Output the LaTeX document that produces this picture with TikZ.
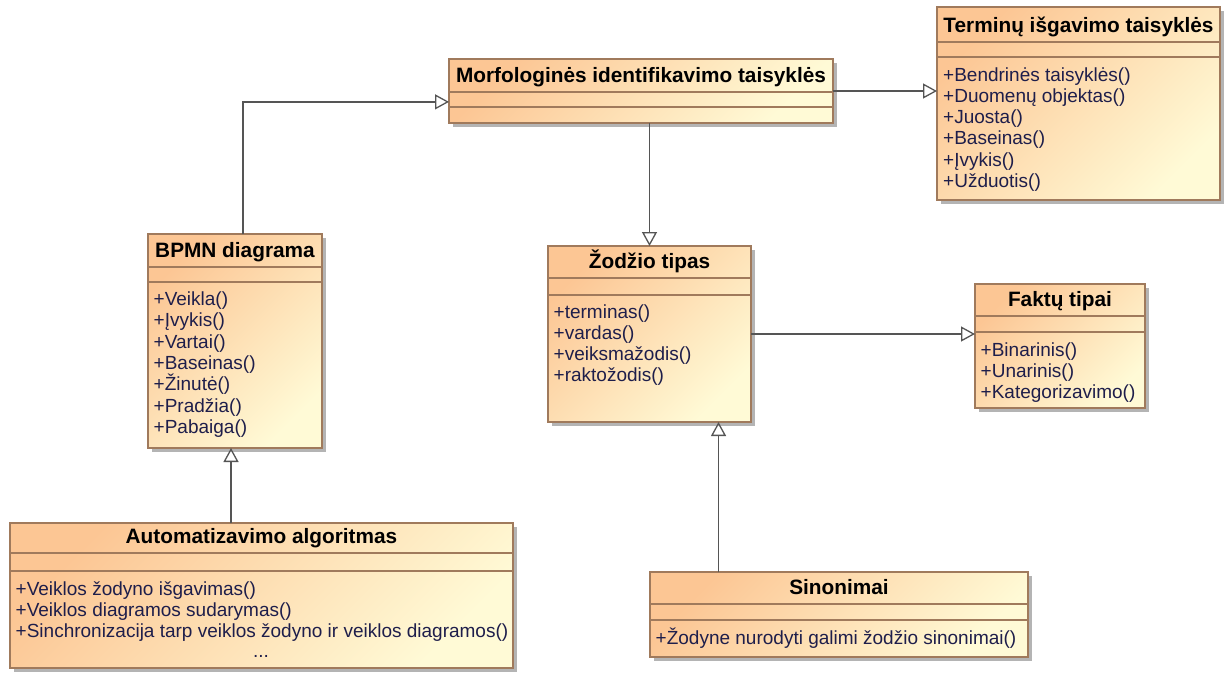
\documentclass[tikz,border=0pt]{standalone}
\usepackage{fontspec}
\setmainfont{Liberation Sans}
\usetikzlibrary{arrows.meta,calc}

\definecolor{grA}{RGB}{252,198,148}
\definecolor{grB}{RGB}{255,250,214}
\definecolor{edge}{RGB}{160,122,92}
\definecolor{shadowgray}{RGB}{180,180,180}
\definecolor{membertext}{RGB}{30,30,75}
\definecolor{linkgray}{RGB}{85,85,85}

\tikzset{
  classbody/.style={draw=edge, line width=1.4pt, top color=grA, bottom color=grB,
    shading angle=45, inner sep=0pt, outer sep=0pt, anchor=north west},
  compart/.style={draw=edge, line width=1.4pt},
  classtitle/.style={font=\fontsize{20.8}{24}\selectfont\bfseries, anchor=base, inner sep=0pt},
  member/.style={font=\fontsize{19}{21}\selectfont, text=membertext, anchor=base west, inner sep=0pt},
  generalization/.style={draw=linkgray, line width=1.4pt,
    -{Triangle[open, length=14pt, width=15pt, line width=1.3pt]}},
}

% class box: name, left, top, right, bottom, title rule, attribute rule, title
\newcommand{\umlclass}[8]{%
  \fill[shadowgray] (#2+4,#3+4) rectangle (#4+4,#5+4);
  \node[classbody, minimum width={#4-#2}, minimum height={#5-#3}] (#1) at (#2,#3) {};
  \draw[compart] (#2,#6) -- (#4,#6);
  \draw[compart] (#2,#7) -- (#4,#7);
  \node[classtitle] (#1-title) at ({(#2+#4)/2},#6-10) {#8};
}
% operations: name, text left, first baseline, list
\newcommand{\umlops}[4]{%
  \foreach \m [count=\k] in {#4} {
    \node[member] (#1-op\k) at (#2, {#3+(\k-1)*21.3}) {\m};
  }
}

\begin{document}
\begin{tikzpicture}[x=1pt, y=-1pt]
  \fill[white] (0,0) rectangle (1227,673);
  \useasboundingbox (0,0) rectangle (1227,673);

  \umlclass{morf}{449}{59}{833}{123}{92}{107}{Morfologinės identifikavimo taisyklės}

  \umlclass{term}{937}{7}{1220}{200}{42}{57}{Terminų išgavimo taisyklės}
  \umlops{term}{943}{81}{+Bendrinės taisyklės(), +Duomenų objektas(), +Juosta(), +Baseinas(), +Įvykis(), +Užduotis()}

  \umlclass{bpmn}{148}{234}{322}{448}{267}{282}{BPMN diagrama}
  \umlops{bpmn}{153.5}{305.5}{+Veikla(), +Įvykis(), +Vartai(), +Baseinas(), +Žinutė(), +Pradžia(), +Pabaiga()}

  \umlclass{zod}{548}{246}{751}{422}{278}{295}{Žodžio tipas}
  \umlops{zod}{553.5}{318}{+terminas(), +vardas(), +veiksmažodis(), +raktožodis()}

  \umlclass{fakt}{975}{284}{1145}{408}{316}{332}{Faktų tipai}
  \umlops{fakt}{980.5}{356}{+Binarinis(), +Unarinis(), +Kategorizavimo()}

  \umlclass{auto}{10}{523}{513}{668}{553}{571}{Automatizavimo algoritmas}
  \umlops{auto}{15.5}{595}{+Veiklos žodyno išgavimas(), +Veiklos diagramos sudarymas(), +Sinchronizacija tarp veiklos žodyno ir veiklos diagramos()}
  \node[member, anchor=base] (auto-more) at (261,657) {...};

  \umlclass{sino}{650}{572}{1028}{657}{604}{620}{Sinonimai}
  \umlops{sino}{655.5}{644}{+Žodyne nurodyti galimi žodžio sinonimai()}

  % generalizations
  \coordinate (bpmntop) at ($(bpmn.north west)!0.546!(bpmn.north east)$);
  \coordinate (morfin) at ($(morf.north west)!0.67!(morf.south west)$);
  \coordinate (bpmnfoot) at ($(bpmn.south)+(-4,0)$);
  \coordinate (zodfoot) at ($(zod.south west)!0.84!(zod.south east)$);

  \draw[generalization] (bpmntop) |- (morfin);
  \draw[generalization] (morf.east) -- (morf.east -| term.west);
  \draw[generalization] (morf.south -| zod.north) -- (zod.north);
  \draw[generalization] (zod.east) -- (zod.east -| fakt.west);
  \draw[generalization] (bpmnfoot |- auto.north) -- (bpmnfoot);
  \draw[generalization] (zodfoot |- sino.north) -- (zodfoot);
\end{tikzpicture}
\end{document}
